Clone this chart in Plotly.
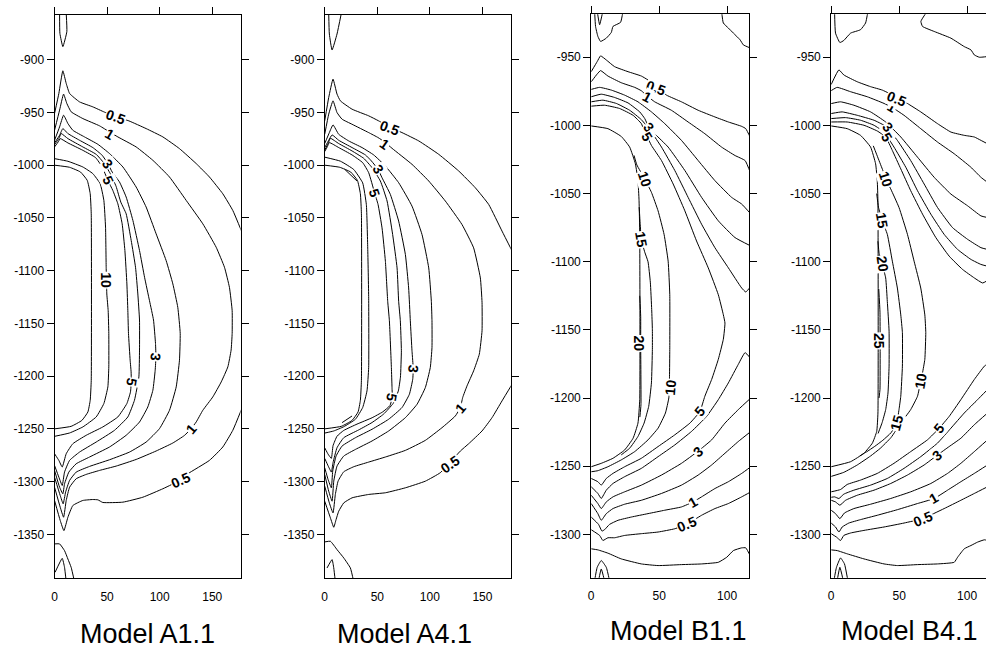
import plotly.graph_objects as go

# ---------------- tick values / labels ----------------
A_X_TICKS = [0, 50, 100, 150]
A_Y_TICKS = [-900, -950, -1000, -1050, -1100, -1150, -1200, -1250, -1300, -1350]
B_X_TICKS = [0, 50, 100]
B_Y_TICKS = [-950, -1000, -1050, -1100, -1150, -1200, -1250, -1300]
TITLES = ["Model A1.1", "Model A4.1", "Model B1.1", "Model B4.1"]

# ---------------- Model A1.1 contour lines (x, depth) ----------------
A11_loop = [(4.8, -856), (5.1, -875), (7.9, -887.6), (11.7, -873.4), (11.1, -856)]
A11_05_top = [(0, -951), (4.1, -932), (7.9, -910.5), (11.1, -922.5), (14.3, -932), (23.8, -940), (36.4, -944.7),
              (47.5, -949.7), (58.6, -954.2), (70.7, -958), (87.1, -965.3), (103, -973.2), (118.8, -984.3),
              (134.7, -998.5), (147.3, -1011.2), (160, -1027.1), (169.5, -1042.9), (178, -1063)]
A11_05_bot = [(178, -1231), (169.5, -1251.4), (160, -1267.2), (147.3, -1279.9), (126.7, -1292.6), (120.4, -1297.5),
              (110.9, -1303), (103, -1306.8), (84, -1314.8), (65, -1319.5), (45.9, -1319.8), (41.2, -1317.3),
              (36.4, -1317), (26.9, -1317.9), (17.4, -1322.7), (12.7, -1333.8), (8.9, -1346.5), (5.4, -1336.9),
              (0, -1317.9)]
A11_1 = [(0, -966.9), (4.8, -947.8), (8.6, -932.6), (11.7, -941.5), (15.8, -949.4), (26.9, -955.8), (42.8, -962.7),
         (52.3, -968.5), (60.2, -973.2), (77.6, -982.7), (93.5, -995.4), (109.3, -1011.2), (125.2, -1033.4),
         (141, -1055.6), (153.7, -1077.8), (161.6, -1096.8), (166.3, -1115.8), (168.9, -1138), (168.9, -1159.5),
         (167.9, -1175.3), (164.8, -1191.2), (158.5, -1205.5), (150.5, -1219.7), (141, -1232.4), (134.7, -1243.5),
         (129.9, -1249.8), (123.6, -1256.2), (112.5, -1263.4), (96.6, -1271), (77.6, -1279), (58.6, -1285.3),
         (42.8, -1289.4), (30.1, -1293.2), (20.6, -1297.3), (14.3, -1305.3), (11.1, -1317.9), (8.6, -1333.8),
         (5.4, -1324.3), (0, -1305.3)]
A11_2 = [(0, -976.4), (4.8, -963.7), (8.6, -952.6), (12.7, -960.5), (17.4, -966.9), (28.5, -973.2), (41.2, -980.2),
         (52.3, -989), (65, -1001.7), (77.6, -1020.7), (87.1, -1039.7), (96.6, -1065.1), (106.1, -1090.4),
         (112.5, -1112.6), (117.2, -1134.8), (119.5, -1159.5), (118.8, -1184.9), (115.7, -1210.2), (109.3, -1232.4),
         (99.8, -1249.8), (87.1, -1262.5), (71.3, -1272), (52.3, -1279.3), (33.3, -1285.6), (20.6, -1291),
         (14.3, -1298.9), (10.5, -1310), (8.2, -1321.1), (5.4, -1313.2), (0, -1295.8)]
A11_3 = [(0, -978.9), (4.8, -971.6), (7.9, -965.3), (12.7, -970), (23.8, -976.4), (36.4, -983.3), (45.3, -990.6),
         (50.7, -998.5), (54.8, -1006.5), (61.8, -1016), (68.1, -1030.2), (74.5, -1052.4), (80.8, -1080.9),
         (85.6, -1106.3), (90.3, -1128.5), (94.1, -1146.8), (96, -1169), (96.4, -1181.7), (95.7, -1194.4),
         (93.5, -1213.4), (88.7, -1229.2), (80.8, -1243.5), (68.1, -1256.1), (52.3, -1267.2), (33.3, -1276.7),
         (20.6, -1283.1), (13.6, -1291), (9.5, -1302.1), (7.9, -1311.6), (4.8, -1305.3), (0, -1289.4)]
A11_4 = [(0, -980.5), (4.1, -974.8), (6.3, -970), (12.7, -974.8), (26.9, -982.7), (39.6, -989.7), (47, -998),
         (53, -1008), (58.5, -1020), (63, -1035), (68.1, -1046.1), (72.9, -1071.4), (77, -1096.8), (79.2, -1122.1),
         (80.8, -1146.8), (80.8, -1175.3), (80.2, -1200.7), (76, -1222.9), (69.7, -1238.7), (57, -1251.4),
         (39.6, -1262.5), (23.8, -1272), (14.3, -1279.9), (9.5, -1291), (7.3, -1303.7), (4.1, -1295.8),
         (0, -1284.7)]
A11_5 = [(0, -982.7), (3.5, -977.9), (5.4, -974.8), (12.7, -978.9), (26.9, -985.9), (39, -992.8), (45.3, -1001.7),
         (50.7, -1014.4), (55.4, -1023.9), (60.2, -1036.6), (64.3, -1055.6), (66.9, -1080.9), (68.8, -1112.6),
         (69.7, -1138), (70.3, -1159.5), (71.9, -1184.9), (72.8, -1196), (73, -1205), (72.2, -1215), (68.8, -1226),
         (60.2, -1238.7), (45.9, -1248.2), (30.1, -1256.1), (17.4, -1264.1), (11.1, -1273.6), (7.3, -1286.2),
         (4.1, -1279.9), (0, -1273.6)]
A11_10 = [(0, -993.8), (12.7, -996.3), (26.9, -1001.7), (36.4, -1008), (43.4, -1017.6), (46.9, -1033.4),
          (48.5, -1058.7), (49.1, -1096.8), (49.4, -1109.4), (49.7, -1122.1), (51, -1138), (51.6, -1159.5),
          (51.6, -1191.2), (50.7, -1210.2), (46.9, -1226), (39.6, -1238.7), (26.9, -1248.2), (14.3, -1253.9),
          (0, -1257.1)]
A11_cav = [(0, -1000), (14.3, -1002), (24.7, -1006.5), (31.1, -1014.4), (33.9, -1027), (34.9, -1046), (34.9, -1204),
           (33.9, -1223), (31.7, -1234), (26, -1242), (15.8, -1247.6), (0, -1250)]
A11_bl1 = [(0, -1359.1), (4.8, -1359.1), (9.5, -1365.5), (12.7, -1373.4), (15.8, -1381.3), (19, -1395)]
A11_bl2 = [(0.5, -1386), (7.3, -1372.8), (9.5, -1381.3), (11.1, -1395)]
A11_LABELS = [("0.5", 58.6, -954.2, 20), ("1", 52.3, -970, 30), ("3", 50.7, -998.5, 55), ("5", 50.7, -1014.4, 65),
              ("10", 49.3, -1109.4, 90), ("3", 96.4, -1181.7, 95), ("5", 73.5, -1205.5, 100),
              ("1", 129.9, -1249.8, -50), ("0.5", 120.4, -1298.9, -25)]

# ---------------- Model A4.1 ----------------
A41_loop = [(3.8, -856), (4.4, -875.6), (7, -890.8), (11.7, -875.6), (15.8, -856)]
A41_05_top = [(0, -958), (3.8, -935.8), (7.9, -918.4), (11.7, -932.6), (14.9, -939), (26, -946.9), (41.8, -953.2),
              (51.3, -958), (62.4, -964.3), (73.5, -969.1), (89.4, -977), (108.4, -989.7), (127.4, -1005.5),
              (143.2, -1021.4), (155.9, -1037.2), (168.6, -1062.5), (178, -1081)]
A41_05_bot = [(178, -1208), (168.6, -1223.5), (159.1, -1239.4), (149.6, -1252), (136.9, -1264.1), (129, -1271),
              (119.5, -1281.5), (109.9, -1291.6), (95.7, -1299.6), (76.7, -1305.9), (57.7, -1310.6),
              (41.8, -1312.2), (26, -1315.4), (18.1, -1320.2), (13.3, -1328.1), (10.8, -1336), (8.6, -1343.3),
              (5.4, -1334.4), (0, -1318.6)]
A41_1 = [(0, -970.7), (3.8, -951.6), (7.9, -939), (11.7, -950.1), (16.5, -956.4), (26, -961.2), (41.8, -969.1),
         (50.7, -973.8), (57, -978), (64, -984), (83, -999.2), (98.9, -1015), (114.7, -1034), (130.5, -1056.2),
         (141.6, -1078.4), (148, -1106.9), (149.6, -1130), (149.6, -1157), (147, -1179.2), (141.6, -1195),
         (135.3, -1209.3), (131.2, -1220.3), (129, -1229.8), (124.2, -1237.8), (111.5, -1248.9), (95.7, -1260.9),
         (76.7, -1270.4), (57.7, -1276.7), (41.8, -1281.5), (27.6, -1285.9), (18.1, -1290.7), (12.7, -1299.6),
         (10.1, -1312.2), (7.9, -1329.7), (4.4, -1320.2), (0, -1304.3)]
A41_2 = [(0, -979.5), (4.4, -969.1), (7.9, -961.8), (13.3, -970.7), (22.8, -977), (35.5, -983.3), (46.6, -990.3),
         (57.7, -1000.8), (70.3, -1016.6), (83, -1038.8), (92.5, -1065.7), (98.9, -1097.4), (101.4, -1129.1),
         (102, -1147.5), (102, -1172.8), (100.4, -1191.8), (95.7, -1210.8), (87.8, -1226.7), (76.7, -1239.4),
         (60.8, -1252), (45, -1261.5), (29.2, -1269.5), (18.1, -1275.8), (11.7, -1285.3), (8.6, -1299.6),
         (7, -1318.6), (3.8, -1309.1), (0, -1293.3)]
A41_3 = [(0, -983.3), (3.8, -976.4), (7, -971.3), (13.3, -976.4), (26, -983.3), (38.7, -990.3), (44.4, -996),
         (50.7, -1003.9), (54.5, -1011.9), (62.4, -1027.7), (70.3, -1053), (76.7, -1084.7), (79.8, -1116.4),
         (81.4, -1147.5), (83, -1176), (83.7, -1185.5), (84.2, -1193.4), (83.7, -1202.9), (80.5, -1217.2),
         (73.5, -1229.8), (60.8, -1240.9), (45, -1250.4), (29.2, -1258.4), (16.5, -1266.3), (10.8, -1275.8),
         (7.6, -1290), (6.3, -1305.9), (3.2, -1298), (0, -1286.9)]
A41_4 = [(0, -985.6), (3.2, -979.5), (5.4, -974.5), (13.3, -979.5), (26, -986.5), (37.1, -993.5), (45, -1002.3),
         (52.9, -1015), (59.3, -1034), (64.6, -1065.7), (68.8, -1097.4), (70.3, -1129.1), (71.9, -1147.5),
         (72.9, -1176), (72, -1201), (70, -1214), (65, -1226), (56, -1236), (45, -1244), (32.3, -1251),
         (18.1, -1258.4), (11.7, -1267.9), (7.9, -1282.1), (6.3, -1291), (3.2, -1285), (0, -1278)]
A41_5 = [(0, -987.1), (2.5, -982.4), (4.4, -978.6), (13.3, -983.3), (26, -990.3), (36.1, -997.6), (41.8, -1007.1),
         (47.4, -1026.1), (50.7, -1037.2), (54.5, -1059.4), (57.7, -1091.1), (59.9, -1129.1), (61.5, -1147.5),
         (63.4, -1191.8), (64, -1210.8), (64.2, -1220.3), (62, -1228), (55, -1234), (45, -1239.5),
         (30.7, -1245.5), (18.1, -1251.5), (11.7, -1257), (7.9, -1266), (6.3, -1278), (3.2, -1274), (0, -1268)]
A41_10 = [(0, -992.4), (14.9, -996.2), (27.6, -1004.1), (36.1, -1016.8), (39.6, -1037.4), (40.9, -1078.6),
          (41.8, -1126.1), (41.8, -1191.8), (40.2, -1214), (36.1, -1229.8), (29.2, -1240.9), (18.1, -1248),
          (8.6, -1252), (0, -1254)]
A41_cav = [(0, -1000), (14.3, -1002), (24.7, -1006.5), (31.1, -1014.4), (33.9, -1027), (34.9, -1046), (34.9, -1204),
           (33.9, -1223), (31.7, -1234), (26, -1242), (15.8, -1247.6), (0, -1250)]
A41_dash1 = [(19, -1003.9), (30.7, -1015)]
A41_dash2 = [(16.5, -1244.1), (26, -1237.8)]
A41_bl1 = [(0, -1357.2), (5.4, -1356.6), (11.7, -1364.5), (18.1, -1372.4), (24.4, -1381.9), (27.6, -1395)]
A41_bl2 = [(2.2, -1381.9), (7, -1374), (8.6, -1381.9), (10.1, -1395)]
A41_LABELS = [("0.5", 62.4, -964.3, 20), ("1", 57, -979.5, 35), ("3", 50.7, -1003.9, 60), ("5", 47.6, -1026.1, 72),
              ("3", 84.2, -1193.4, 95), ("5", 64.2, -1220.3, 100), ("1", 129, -1229.8, -50),
              ("0.5", 119.5, -1283.0, -35)]

# ---------------- Model B1.1 ----------------
B11_tl = [(2.5, -916), (3.2, -927.4), (4.9, -934.7), (6.9, -938.4), (11.1, -936), (14.8, -931.8), (16, -927.4),
          (21.6, -924.4), (23.4, -916)]
B11_tl2 = [(4.4, -916), (6.2, -926.1), (8.6, -916)]
B11_tr = [(95.9, -916), (97.2, -924.9), (100.9, -928.6), (104.6, -932.3), (109.5, -937.2), (111.9, -940.9),
          (117.5, -943.4)]
B11_05_top = [(0, -960.6), (4.4, -953.2), (6.9, -949), (11.1, -952), (17.2, -956.9), (27.1, -960.6), (36.9, -963.8),
              (41.8, -966.7), (48, -971.8), (55.4, -977.8), (66.4, -982.7), (78.7, -988.9), (91, -993.8),
              (100.9, -997.5), (110.7, -1000.7), (113.7, -1002.4), (117.5, -1009.8)]
B11_1_top = [(0, -968), (4.4, -962.3), (6.9, -959.8), (12.3, -963.8), (22.1, -968.7), (32, -972.1), (36.9, -974.6),
             (41.3, -978.5), (46.7, -982.7), (59, -988.9), (71.3, -997.5), (83.6, -1006.1), (95.9, -1015.9),
             (105.8, -1022.1), (113.2, -1025.8), (117.5, -1035.6)]
B11_2_top = [(0, -973.6), (6.2, -972.1), (14.8, -974.1), (24.6, -977.8), (34.4, -982.7), (44.3, -990.1),
             (54.1, -998.7), (66.4, -1011), (78.7, -1025.8), (91, -1040.5), (103.3, -1052.8), (110.7, -1057.7),
             (117.5, -1065.1)]
B11_3_top = [(0, -979), (7.4, -977.1), (17.2, -979.5), (27.1, -983.5), (35.7, -990.1), (39.4, -995), (42.3, -1001.2),
             (46.7, -1006.1), (56.6, -1015.9), (68.9, -1033.1), (81.2, -1052.8), (93.5, -1070), (105.8, -1082.3),
             (117.5, -1088.5)]
B11_4_top = [(0, -982.7), (8.6, -981.5), (18.5, -983.9), (28.3, -988.9), (36.9, -995.8), (44.3, -1004.9),
             (51.7, -1015.9), (61.5, -1033.1), (71.3, -1052.8), (81.2, -1072.5), (91, -1089.7), (100.9, -1104.5),
             (110.7, -1119.3), (113.7, -1122.2), (117.5, -1118)]
B11_5 = [(0, -985.9), (9.8, -985.2), (20.9, -987.6), (30.8, -992.6), (36.9, -998.7), (38.9, -1003.6), (41.3, -1008.5),
         (44.3, -1014.7), (51.7, -1025.8), (60.3, -1043), (68.9, -1062.7), (77.5, -1084.8), (86.1, -1104.5),
         (93.5, -1124.2), (97.2, -1138.9), (98.4, -1145), (97.2, -1156.9), (93.5, -1171.6), (88.6, -1186.4),
         (83.6, -1198.7), (80, -1209.8), (72.6, -1218.4), (61.5, -1227), (49.2, -1235.6), (36.9, -1244.2),
         (24.6, -1250.4), (16, -1255.3), (11.1, -1259), (7.4, -1263.9), (4.9, -1261.4), (0, -1259)]
B11_4_bot = [(117.5, -1171.2), (113.2, -1166.7), (108.2, -1175.3), (100.9, -1188.9), (93.5, -1201.2),
             (84.9, -1213.5), (73.8, -1224.5), (61.5, -1234.4), (49.2, -1243), (36.9, -1251.6), (24.6, -1257.7),
             (16, -1262.7), (11.1, -1267.6), (7.4, -1273.7), (4.9, -1270), (0, -1265.1)]
B11_3_bot = [(117.5, -1199.9), (108.2, -1208.5), (98.4, -1218.4), (88.6, -1230.7), (78.2, -1239.3), (66.4, -1247.9),
             (51.7, -1256.5), (36.9, -1263.9), (24.6, -1268.8), (16, -1272.5), (11.1, -1276.2), (7.4, -1281.1),
             (4.9, -1277.4), (0, -1271.3)]
B11_2_bot = [(117.5, -1224.5), (108.2, -1231.9), (98.4, -1240.5), (88.6, -1249.1), (78.7, -1256.5), (66.4, -1263.9),
             (51.7, -1270), (36.9, -1275), (24.6, -1277.9), (16, -1281.1), (11.1, -1284.8), (7.4, -1289.7),
             (4.9, -1284.8), (0, -1277.4)]
B11_1_bot = [(117.5, -1250.4), (110.7, -1255.3), (100.9, -1261.4), (91, -1266.4), (81.2, -1272.5), (75, -1276.2),
             (66.4, -1279.9), (54.1, -1282.3), (41.8, -1284.8), (29.5, -1287.3), (19.7, -1289.7), (13.5, -1292.7),
             (9.8, -1296.6), (7.9, -1297.6), (5.4, -1292.7), (0, -1287.3)]
B11_05_bot = [(117.5, -1268.8), (110.7, -1272.5), (100.9, -1277.4), (91, -1281.1), (81.2, -1286), (70.6, -1292.4),
              (61.5, -1295.9), (49.2, -1298.3), (36.9, -1299.5), (24.6, -1300.8), (17.2, -1302.5), (12.3, -1302.5),
              (8.6, -1304.5), (6.2, -1300.8), (0, -1296.6)]
B11_10 = [(31.5, -1022), (33.6, -1029), (39.4, -1039.3), (44.3, -1049.1), (49.2, -1062.7), (53.6, -1079.9),
          (56.6, -1099.6), (57.8, -1124.2), (57.8, -1164.3), (57.6, -1184), (57.1, -1199.9), (54.6, -1211),
          (49.2, -1222.1), (41.8, -1230.7), (32, -1239.3), (22.1, -1245.4), (12.3, -1250.4), (4.9, -1253.3),
          (0, -1254.1)]
B11_15 = [(35.3, -1060), (36, -1072), (36.9, -1084), (39.4, -1093), (41.8, -1100), (43.5, -1115), (44.5, -1135),
          (45, -1150), (45, -1164.3), (44.3, -1188.9), (42.3, -1206.1), (38.9, -1218.4), (34.4, -1228.2),
          (28.3, -1236.8), (22.1, -1241.7)]
B11_20 = [(35.7, -1125), (36.4, -1140), (36.4, -1160), (36.6, -1205), (35.8, -1214)]
B11_cav = [(0, -1000.4), (12.3, -1002.4), (22.1, -1008.1), (28.3, -1015.9), (32.5, -1028.2), (34.4, -1040.5),
           (35.2, -1055.3), (35.7, -1080), (35.7, -1201.2), (34.4, -1218.4), (30.8, -1229.5), (24.6, -1238.1),
           (16, -1244.2), (7.4, -1247.9), (0, -1250.4)]
B11_bot = [(0, -1310.6), (4.9, -1311.4), (12.3, -1313.8), (22.1, -1318), (36.9, -1321.7), (49.2, -1322.9),
           (66.4, -1322.2), (81.2, -1321.7), (93.5, -1320.5), (99.7, -1316.8), (104.6, -1311.9), (110.7, -1309.9),
           (113.7, -1309.9), (117.5, -1316.8)]
B11_arch1 = [(2.5, -1334), (4.4, -1324.2), (7.4, -1319.2), (11.1, -1324.2), (13.5, -1334)]
B11_arch2 = [(5.4, -1334), (7.4, -1325.4), (9.8, -1334)]
B11_LABELS = [("0.5", 48, -972.9, 20), ("1", 41.3, -979.5, 28), ("3", 42.3, -1001.2, 50), ("5", 41.3, -1008.5, 60),
              ("10", 39.4, -1039.3, 72), ("15", 36.9, -1084, 80), ("20", 35.2, -1160, 90),
              ("10", 58.3, -1191.8, -85), ("5", 80, -1209.8, -50), ("3", 78.2, -1239.3, -40),
              ("1", 75, -1276.2, -30), ("0.5", 70.6, -1292.4, -22)]

# ---------------- Model B4.1 ----------------
B41_tl = [(2.5, -916), (3.2, -932.3), (6.4, -939.2), (9.3, -937.7), (14.3, -932.3), (21.6, -929.8), (25.3, -924.9),
          (27.1, -916)]
B41_tr = [(70.8, -916), (66, -923.7), (67.2, -927.4), (75.8, -931.1), (88.1, -936), (97.9, -942.2), (102.8, -944.6),
          (105.3, -948.3), (109, -950), (115, -949.5)]
B41_05_top = [(0, -970), (5.7, -959.3), (9.3, -963), (19.2, -968), (29, -971.6), (37.6, -974.1), (48.7, -979.5),
              (56.1, -983.9), (65.9, -990.1), (78.2, -998.7), (88.1, -1004.9), (97.9, -1007.3), (105.3, -1008.5),
              (110.2, -1011), (115, -1013.5)]
B41_1_top = [(0, -974.5), (4.4, -972.1), (14.3, -975.3), (26.6, -979), (38.9, -983.9), (45, -986.9), (53.6, -992.6),
             (65.9, -1002.4), (78.2, -1012.2), (90.5, -1020.8), (102.8, -1030.7), (110.2, -1038.1), (115, -1041.8)]
B41_2_top = [(0, -984), (6.9, -982.7), (16.7, -985.2), (29, -990.1), (40.1, -997.5), (51.2, -1008.5), (63.5, -1023.3),
             (75.8, -1038.1), (88.1, -1050.4), (100.4, -1059), (110.2, -1066.4), (115, -1067.6)]
B41_3_top = [(0, -991.3), (8.1, -990.1), (19.2, -992.6), (31.5, -996.2), (38.9, -999.9), (41.8, -1002.4),
             (48.7, -1011), (58.5, -1025.8), (68.4, -1043), (78.2, -1060.2), (89.3, -1075), (100.4, -1083.6),
             (110.2, -1089.7), (115, -1091)]
B41_4_top = [(0, -995), (10.6, -994.3), (21.6, -996.2), (31.5, -999.9), (38.9, -1004.9), (46.2, -1015.9),
             (54.9, -1030.7), (63.5, -1047.9), (73.3, -1065.1), (83.1, -1079.9), (93, -1091), (102.8, -1098.3),
             (110.2, -1102), (115, -1103.3)]
B41_5_top = [(0, -997.5), (11.8, -997.5), (24.1, -999.9), (33.9, -1004.1), (40.1, -1008.5), (45, -1018.4),
             (51.2, -1031.9), (58.5, -1047.9), (67.2, -1065.1), (77, -1082.3), (86.8, -1095.9), (96.7, -1105.7),
             (105.3, -1111.9), (111.4, -1115.6), (115, -1113.8)]
B41_10 = [(31, -1015), (34.5, -1024), (38, -1033), (40.1, -1039.3), (43.8, -1046.6), (49.9, -1060.2), (56.1, -1079.9),
          (61, -1099.6), (65.9, -1119.3), (68.9, -1139), (69.6, -1152), (68.9, -1171.6), (67.2, -1181.5),
          (65.9, -1187.6), (63.5, -1198.7), (58.5, -1208.5), (51.2, -1218.4), (44, -1229), (36, -1237),
          (29, -1242.5), (19.2, -1249.1), (9.3, -1254.5), (0, -1257.5)]
B41_15 = [(33.5, -1050), (34.8, -1060), (37.6, -1070), (41.3, -1079.9), (45, -1099.6), (48.7, -1119.3), (51.2, -1139),
          (52.4, -1152), (52.4, -1176.6), (51.2, -1198.7), (49.9, -1208.5), (48.2, -1218.4), (44, -1225.5),
          (38, -1231), (32, -1235.5), (26, -1239.5), (21, -1242.5)]
B41_20 = [(34.4, -1085), (35.3, -1094), (37.6, -1102), (40.1, -1111.9), (41.3, -1129.1), (42.6, -1151),
          (42.6, -1176.6), (41.8, -1196.3), (40.1, -1208.5), (37.5, -1218), (34.5, -1226)]
B41_25 = [(35, -1120), (35.9, -1137), (35.9, -1193.8), (35.2, -1200)]
B41_cav = [(0, -1000.4), (11.8, -1002.4), (21.6, -1007.3), (29, -1015.9), (32.7, -1028.2), (33.9, -1040.5),
           (34.4, -1055.3), (34.4, -1211), (33.5, -1224.5), (30.3, -1233.1), (24.1, -1240.5), (14.3, -1246.7),
           (0, -1250.4)]
B41_5_bot = [(115, -1175), (112.7, -1176.6), (105.3, -1186.4), (95.4, -1201.2), (86.8, -1213.5), (79.5, -1222.1),
             (70.8, -1230.7), (58.5, -1239.3), (46.2, -1247.9), (33.9, -1255.3), (21.6, -1260.2), (11.8, -1263.4),
             (6.9, -1267.1), (0, -1268.8)]
B41_4_bot = [(115, -1193.8), (107.7, -1201.2), (97.9, -1211), (88.1, -1222.1), (78.2, -1233.1), (65.9, -1243),
             (53.6, -1251.6), (41.3, -1259), (29, -1263.9), (16.7, -1267.6), (9.3, -1270.5), (5.7, -1273.7),
             (2.5, -1272.5), (0, -1272.8)]
B41_3_bot = [(115, -1211), (105.3, -1219.6), (95.4, -1229.5), (86.8, -1235.6), (78.2, -1241.8), (68.4, -1249.1),
             (56.1, -1256.5), (43.8, -1262.7), (31.5, -1267.6), (19.2, -1271.3), (10.6, -1275), (6.4, -1278.6),
             (3.2, -1276.2), (0, -1275)]
B41_2_bot = [(115, -1230.7), (105.3, -1239.3), (95.4, -1247.9), (85.6, -1255.3), (73.3, -1262.7), (58.5, -1268.8),
             (43.8, -1273.7), (29, -1277.9), (16.7, -1281.1), (9.8, -1284.3), (6.4, -1288.5), (3.2, -1284.8),
             (0, -1282.3)]
B41_1_bot = [(115, -1249.1), (105.3, -1255.3), (95.4, -1261.4), (85.6, -1267.6), (75.8, -1273.7), (63.5, -1277.4),
             (48.7, -1281.9), (33.9, -1286), (21.6, -1289.2), (13, -1291.7), (8.1, -1294.6), (5.7, -1298.3),
             (3.2, -1294.6), (0, -1291.7)]
B41_05_bot = [(115, -1265.1), (105.3, -1270), (95.4, -1275), (83.1, -1281.1), (67.2, -1288.5), (53.6, -1291.7),
              (38.9, -1294.6), (24.1, -1297.1), (14.3, -1299), (9.3, -1300.8), (6.9, -1304.5), (3.9, -1302),
              (0, -1299.5)]
B41_bot = [(0, -1311.4), (4.4, -1311.9), (11.8, -1314.3), (24.1, -1318), (38.9, -1321.7), (48.7, -1322.9),
           (63.5, -1322.2), (78.2, -1321.7), (90.5, -1320.5), (93, -1316.8), (97.9, -1310.6), (102.8, -1308.2),
           (107.7, -1305.7), (112.7, -1304), (115, -1304.5)]
B41_arch1 = [(2, -1334), (3.9, -1324.2), (6.9, -1317.3), (9.8, -1321.7), (12.3, -1334)]
B41_arch2 = [(4.4, -1334), (6.4, -1324.2), (8.9, -1334)]
B41_LABELS = [("1", 45, -986.4, 30), ("0.5", 48.7, -980.3, 22), ("3", 41.8, -1001.2, 50), ("5", 40.8, -1008.5, 60),
              ("10", 40.1, -1039.3, 72), ("15", 37.6, -1070, 80), ("20", 37.6, -1102, 82), ("25", 35.2, -1158.1, 90),
              ("10", 65.9, -1187.6, -80), ("15", 48.2, -1218.4, -75), ("5", 79.5, -1222.1, -50),
              ("3", 78.2, -1241.8, -38), ("1", 75.8, -1273.7, -30), ("0.5", 67.2, -1288.5, -22)]

# ---------------- assemble ----------------
PANELS = [
    dict(lines=[A11_loop, A11_05_top, A11_05_bot, A11_1, A11_2, A11_3, A11_4, A11_5, A11_10, A11_cav, A11_bl1, A11_bl2],
         labels=A11_LABELS, xr=[0, 176.9], yr=[-1391.7, -857.6], xt=A_X_TICKS, yt=A_Y_TICKS,
         dom_x=[51.7, 238.3], dom_y=[15, 578.3], right=True, title_x=145, title_y=634),
    dict(lines=[A41_loop, A41_05_top, A41_05_bot, A41_1, A41_2, A41_3, A41_4, A41_5, A41_10, A41_cav, A41_dash1,
                A41_dash2, A41_bl1, A41_bl2],
         labels=A41_LABELS, xr=[0, 176.9], yr=[-1391.7, -857.6], xt=A_X_TICKS, yt=A_Y_TICKS,
         dom_x=[322.7, 509.3], dom_y=[15, 578.3], right=True, title_x=403, title_y=634),
    dict(lines=[B11_tl, B11_tl2, B11_tr, B11_05_top, B11_1_top, B11_2_top, B11_3_top, B11_4_top, B11_5, B11_4_bot,
                B11_3_bot, B11_2_bot, B11_1_bot, B11_05_bot, B11_10, B11_15, B11_20, B11_cav, B11_bot, B11_arch1,
                B11_arch2],
         labels=B11_LABELS, xr=[0, 116.1], yr=[-1331.8, -918.5], xt=B_X_TICKS, yt=B_Y_TICKS,
         dom_x=[590, 748.3], dom_y=[14.3, 577.7], right=True, title_x=678, title_y=631),
    dict(lines=[B41_tl, B41_tr, B41_05_top, B41_1_top, B41_2_top, B41_3_top, B41_4_top, B41_5_top, B41_10, B41_15,
                B41_20, B41_25, B41_cav, B41_5_bot, B41_4_bot, B41_3_bot, B41_2_bot, B41_1_bot, B41_05_bot, B41_bot,
                B41_arch1, B41_arch2],
         labels=B41_LABELS, xr=[0, 113.9], yr=[-1331.8, -918.5], xt=B_X_TICKS, yt=B_Y_TICKS,
         dom_x=[830.7, 986], dom_y=[14.3, 577.7], right=False, title_x=909, title_y=631),
]

W, H = 986, 650
FONT = "Liberation Sans, Arial, sans-serif"
fig = go.Figure()
layout = dict(width=W, height=H, margin=dict(l=0, r=0, t=0, b=0), paper_bgcolor="white", plot_bgcolor="white",
              showlegend=False, font=dict(family=FONT, color="black", size=12))
annotations = []

for i, p in enumerate(PANELS):
    n = i + 1
    xa = "x" if n == 1 else f"x{n}"
    ya = "y" if n == 1 else f"y{n}"
    top_n = n + 4
    for line in p["lines"]:
        fig.add_trace(go.Scatter(x=[pt[0] for pt in line], y=[pt[1] for pt in line], mode="lines",
                                 line=dict(color="black", width=1, shape="spline", smoothing=0.4),
                                 xaxis=xa, yaxis=ya, hoverinfo="skip"))
    fig.add_trace(go.Scatter(x=[None], y=[None], mode="lines", xaxis=f"x{top_n}", yaxis=ya, hoverinfo="skip"))

    dx = [p["dom_x"][0] / W, min(1.0, p["dom_x"][1] / W)]
    dy = [(H - p["dom_y"][1]) / H, (H - p["dom_y"][0]) / H]
    xkey = "xaxis" if n == 1 else f"xaxis{n}"
    ykey = "yaxis" if n == 1 else f"yaxis{n}"
    layout[xkey] = dict(domain=dx, range=p["xr"], anchor=ya, showgrid=False, zeroline=False, showline=True,
                        linecolor="black", linewidth=1, mirror=True, ticks="", tickmode="array",
                        tickvals=p["xt"], ticktext=[str(v) for v in p["xt"]], ticklabelstandoff=7,
                        tickfont=dict(family=FONT, size=12, color="black"), fixedrange=True)
    layout[f"xaxis{top_n}"] = dict(overlaying=xa, side="top", anchor=ya, range=p["xr"], showgrid=False,
                                   zeroline=False, showline=False, ticks="outside", ticklen=7, tickwidth=1,
                                   tickcolor="black", tickmode="array", tickvals=p["xt"], showticklabels=False,
                                   fixedrange=True)
    layout[ykey] = dict(domain=dy, range=p["yr"], anchor=xa, showgrid=False, zeroline=False, showline=True,
                        linecolor="black", linewidth=1, mirror="allticks" if p["right"] else False,
                        ticks="outside", ticklen=7, tickwidth=1, tickcolor="black", tickmode="array",
                        tickvals=p["yt"], ticktext=[str(v) for v in p["yt"]],
                        tickfont=dict(family=FONT, size=12, color="black"), fixedrange=True)
    for (txt, lx, ly, ang) in p["labels"]:
        annotations.append(dict(text=f"<b>{txt}</b>", x=lx, y=ly, xref=xa, yref=ya, showarrow=False,
                                textangle=ang, bgcolor="white", borderpad=0,
                                font=dict(family=FONT, size=14, color="black")))
    annotations.append(dict(text=TITLES[i], x=p["title_x"] / W, y=(H - p["title_y"]) / H, xref="paper",
                            yref="paper", showarrow=False, xanchor="center", yanchor="middle",
                            font=dict(family=FONT, size=27, color="black")))

layout["annotations"] = annotations
fig.update_layout(**layout)
fig.write_html("out.html", include_plotlyjs=True, config={"displayModeBar": False})
